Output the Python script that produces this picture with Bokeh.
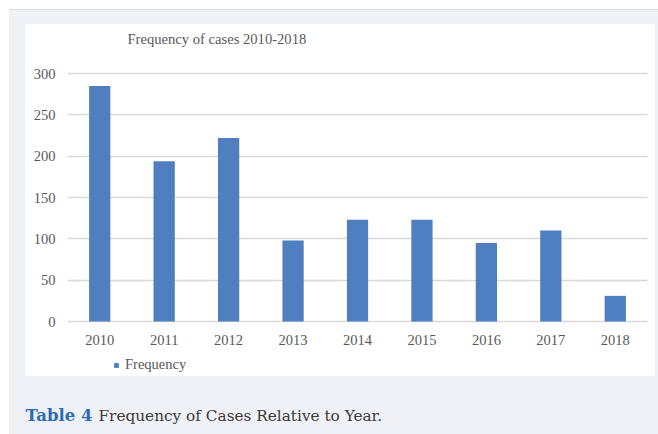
from bokeh.plotting import figure
from bokeh.models import (Range1d, FixedTicker, Legend, LegendItem, Label)
from bokeh.embed import file_html
from bokeh.resources import INLINE

years = ["2010", "2011", "2012", "2013", "2014", "2015", "2016", "2017", "2018"]
frequency = [285, 194, 222, 98, 123, 123, 95, 110, 31]
y_ticks = [0, 50, 100, 150, 200, 250, 300]
chart_title = "Frequency of cases 2010-2018"
series_name = "Frequency"
caption_bold = "Table 4"
caption_text = "Frequency of Cases Relative to Year."

W, H = 658, 434
BAR = "#4f7fbe"
TXT = "#595959"
FONT = "Liberation Serif"
GRAY = "#f0f1f6"
GRID = "#d9d9d9"

# plot-area geometry (pixels): categories span 67..647, value 0 at 321, 300 at 73
PL, PR, P0, P300 = 67.0, 647.0, 321.0, 73.0
step = (PR - PL) / len(years)
xpos = list(range(len(years)))
x_start = -(PL / step) - 0.5
x_end = x_start + W / step
ppu = (P0 - P300) / 300.0
y_start = -(H - P0) / ppu
y_end = 300 + P300 / ppu
x_lo, x_hi = -0.5, len(years) - 0.5

bg = ("linear-gradient(#ffffff,#ffffff) 25px 24px / 630px 352px no-repeat, "
      "linear-gradient(#d9dbe2,#d9dbe2) 9px 9px / 649px 1px no-repeat, "
      f"linear-gradient({GRAY},{GRAY}) 9px 10px / 649px 424px no-repeat, #ffffff")

p = figure(width=W, height=H, output_backend="svg", toolbar_location=None,
           x_range=Range1d(x_start, x_end), y_range=Range1d(y_start, y_end),
           min_border=0, styles={"background": bg})
p.border_fill_alpha = 0
p.background_fill_alpha = 0
p.outline_line_color = None
p.xgrid.grid_line_color = None

grid_ok = False
try:
    p.ygrid.cross_bounds = (x_lo, x_hi)
    grid_ok = True
except Exception:
    grid_ok = False

if grid_ok:
    p.ygrid.ticker = FixedTicker(ticks=y_ticks)
    p.ygrid.grid_line_color = GRID
    p.ygrid.grid_line_width = 1.5
else:
    p.ygrid.grid_line_color = None
    p.segment(x0=[x_lo] * len(y_ticks), x1=[x_hi] * len(y_ticks), y0=y_ticks,
              y1=y_ticks, line_color=GRID, line_width=1.5)

r = p.vbar(x=xpos, top=frequency, width=0.33, fill_color=BAR, line_color=None)

p.yaxis.ticker = FixedTicker(ticks=y_ticks)
p.xaxis.ticker = FixedTicker(ticks=xpos)
p.xaxis.major_label_overrides = {i: y for i, y in zip(xpos, years)}
p.xaxis.fixed_location = 0
p.yaxis.fixed_location = x_lo

for ax in (p.xaxis, p.yaxis):
    ax.axis_line_color = None
    ax.major_tick_line_color = None
    ax.minor_tick_line_color = None
    ax.major_label_text_font = FONT
    ax.major_label_text_font_size = "14.5px"
    ax.major_label_text_color = TXT
p.yaxis.major_label_standoff = 6
p.xaxis.major_label_standoff = 7

p.add_layout(Label(x=127, y=38, x_units="canvas", y_units="canvas", text=chart_title,
                   text_font=FONT, text_font_size="14.6px", text_color=TXT,
                   text_baseline="middle"))

legend = Legend(items=[LegendItem(label=series_name, renderers=[r])],
                location=(113, 61), orientation="horizontal",
                padding=0, margin=0, glyph_width=6, glyph_height=6,
                label_standoff=6, label_height=14, spacing=0,
                border_line_color=None, background_fill_alpha=0,
                label_text_font="Liberation Serif, Times New Roman, serif",
                label_text_font_size="14.5px", label_text_color=TXT)
p.add_layout(legend)

p.add_layout(Label(x=25, y=415, x_units="canvas", y_units="canvas", text=caption_bold,
                   text_font="DejaVu Serif", text_font_style="bold",
                   text_font_size="16.5px", text_color="#2b6cb4",
                   text_baseline="middle"))
p.add_layout(Label(x=98, y=415, x_units="canvas", y_units="canvas", text=caption_text,
                   text_font="DejaVu Serif", text_font_size="15.3px",
                   text_color="#3a3a3a", text_baseline="middle"))

open("out.html", "w").write(file_html(p, INLINE))
